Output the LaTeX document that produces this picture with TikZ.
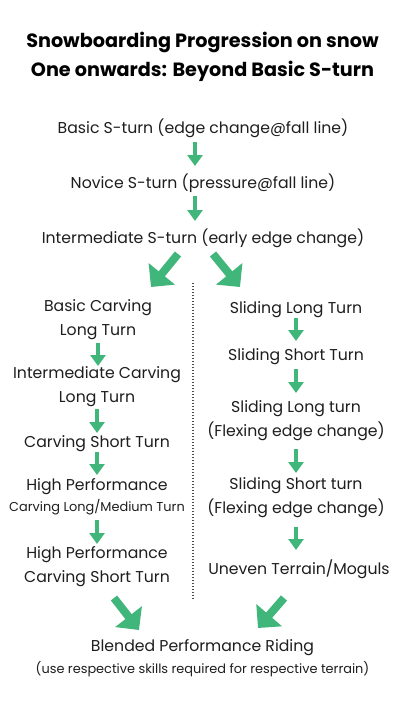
\documentclass[tikz,border=0pt]{standalone}
\usepackage{fontspec}
\setmainfont{Poppins}
\usetikzlibrary{arrows.meta}
\definecolor{agreen}{RGB}{64,182,122}
\definecolor{txt}{RGB}{30,30,30}
\tikzset{
  x=1pt, y=-1pt,
  titletxt/.style={font=\fontsize{19.2}{29}\selectfont\bfseries, text=black, align=center, inner sep=0pt},
  bodytxt/.style={font=\fontsize{15.7}{23.8}\selectfont, text=txt, align=center, inner sep=0pt, yshift=-1.5pt},
  smalltxt/.style={font=\fontsize{12.9}{14}\selectfont, text=txt, align=center, inner sep=0pt, yshift=-1pt},
  varrow/.style={draw=agreen, line width=4.5pt, -{Triangle[width=15pt,length=11pt]}},
  darrow/.style={draw=agreen, line width=8pt, -{Triangle[width=33pt,length=17pt]}},
  divider/.style={draw=black!70, line width=1.2pt, dash pattern=on 1.2pt off 1.8pt}
}
\begin{document}
\begin{tikzpicture}
\useasboundingbox[fill=white] (0,0) rectangle (405,720);
% title
\node[titletxt] (title) at (202.5,57) {Snowboarding Progression on snow\\One onwards: Beyond Basic S-turn};
% main chain
\node[bodytxt] (basic) at (203,127) {Basic S-turn (edge change@fall line)};
\node[bodytxt] (novice) at (203,182) {Novice S-turn (pressure@fall line)};
\node[bodytxt] (inter) at (203,237) {Intermediate S-turn (early edge change)};
\coordinate (a1s) at (195,142); \coordinate (a1e) at (195,166);
\coordinate (a2s) at (195,196); \coordinate (a2e) at (195,221);
\draw[varrow] (a1s) -- (a1e);
\draw[varrow] (a2s) -- (a2e);
% split arrows
\coordinate (dls) at (178,254); \coordinate (dle) at (151,287);
\coordinate (drs) at (213,254); \coordinate (dre) at (240,287);
\draw[darrow] (dls) -- (dle);
\draw[darrow] (drs) -- (dre);
% divider
\coordinate (vtop) at (193,283); \coordinate (vbot) at (193,599);
\draw[divider] (vtop) -- (vbot);
% left column
\node[bodytxt] (l1) at (98,318) {Basic Carving\\Long Turn};
\node[bodytxt] (l2) at (97,385.5) {Intermediate Carving\\Long Turn};
\node[bodytxt] (l3) at (97,442) {Carving Short Turn};
\node[bodytxt] (l4a) at (97,485) {High Performance};
\node[smalltxt] (l4b) at (97,506) {Carving Long/Medium Turn};
\node[bodytxt] (l5) at (97,565.5) {High Performance\\Carving Short Turn};
\coordinate (la1s) at (98,343); \coordinate (la1e) at (98,366);
\coordinate (la2s) at (97,409); \coordinate (la2e) at (97,433);
\coordinate (la3s) at (97,452); \coordinate (la3e) at (97,475);
\coordinate (la4s) at (97,520); \coordinate (la4e) at (97,544);
\draw[varrow] (la1s) -- (la1e);
\draw[varrow] (la2s) -- (la2e);
\draw[varrow] (la3s) -- (la3e);
\draw[varrow] (la4s) -- (la4e);
% right column
\node[bodytxt] (r1) at (296,308) {Sliding Long Turn};
\node[bodytxt] (r2) at (296,355) {Sliding Short Turn};
\node[bodytxt] (r3) at (296,419.5) {Sliding Long turn\\(Flexing edge change)};
\node[bodytxt] (r4) at (296,496.5) {Sliding Short turn\\(Flexing edge change)};
\node[bodytxt] (r5) at (299,568) {Uneven Terrain/Moguls};
\coordinate (ra1s) at (296,318); \coordinate (ra1e) at (296,341);
\coordinate (ra2s) at (296,369); \coordinate (ra2e) at (296,393);
\coordinate (ra3s) at (296,449); \coordinate (ra3e) at (296,473);
\coordinate (ra4s) at (296,527); \coordinate (ra4e) at (296,550);
\draw[varrow] (ra1s) -- (ra1e);
\draw[varrow] (ra2s) -- (ra2e);
\draw[varrow] (ra3s) -- (ra3e);
\draw[varrow] (ra4s) -- (ra4e);
% merge arrows
\coordinate (mls) at (114,598); \coordinate (mle) at (139,630);
\coordinate (mrs) at (284,598); \coordinate (mre) at (258,628);
\draw[darrow] (mls) -- (mle);
\draw[darrow] (mrs) -- (mre);
% final
\node[bodytxt] (blend) at (202.5,646) {Blended Performance Riding};
\node[smalltxt] (blendnote) at (202.5,668) {(use respective skills required for respective terrain)};
\end{tikzpicture}
\end{document}
